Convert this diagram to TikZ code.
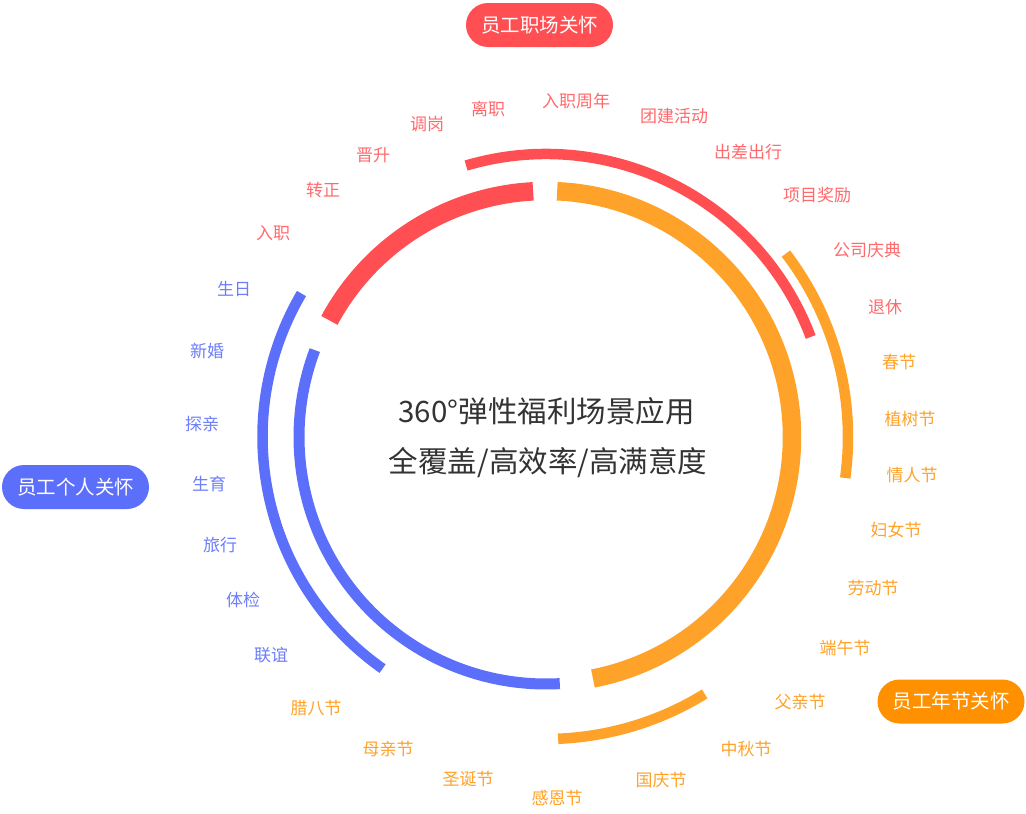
\documentclass[tikz,border=0pt]{standalone}
\usepackage{fontspec}
\setmainfont{Noto Sans CJK SC}
\definecolor{cred}{HTML}{FF4F52}
\definecolor{corg}{HTML}{FFA229}
\definecolor{cblu}{HTML}{5C6FFB}
\definecolor{cpill}{HTML}{FF9000}
\definecolor{ctxt}{HTML}{333333}
\tikzset{
  inring/.style={line width=18.5pt},
  bluering/.style={line width=11pt},
  outring/.style={line width=10.5pt},
  lab/.style={font=\fontsize{17}{19}\selectfont, inner sep=0pt},
  rlab/.style={lab, text=cred!85!white},
  blab/.style={lab, text=cblu!90!white},
  olab/.style={lab, text=corg},
  pill/.style={rounded corners=22pt, minimum width=147pt, minimum height=44pt, text=white, font=\fontsize{19.5}{21}\selectfont, inner sep=0pt},
  ctr/.style={font=\fontsize{29.5}{32}\selectfont, text=ctxt, inner sep=0pt}
}
\begin{document}
\begin{tikzpicture}[x=1pt,y=1pt]
\useasboundingbox (0,0) rectangle (1026,-814);
\coordinate (c) at (546,-437);
% inner ring
\draw[inring, cred] ([shift={(c)}]93:246) arc[start angle=93, end angle=151.7, radius=246];
\draw[inring, corg] ([shift={(c)}]87.4:246) arc[start angle=87.4, end angle=-79, radius=246];
\draw[bluering, cblu] ([shift={(c)}]159.4:247) arc[start angle=159.4, end angle=273.2, radius=247];
% outer ring
\draw[outring, cred] ([shift={(c)}]106.4:283) arc[start angle=106.4, end angle=20.7, radius=283];
\draw[outring, cblu] ([shift={(c)}]149.6:283.5) arc[start angle=149.6, end angle=234.8, radius=283.5];
\draw[outring, corg] ([shift={(c)}]37.4:302) arc[start angle=37.4, end angle=-7.8, radius=302];
\draw[outring, corg] ([shift={(c)}]-58.3:302) arc[start angle=-58.3, end angle=-87.7, radius=302];
% center text
\node[ctr] (t1) at (546.5,-411) {360°弹性福利场景应用};
\node[ctr] (t2) at (548,-463) {全覆盖/高效率/高满意度};
% pills
\node[pill, fill=cred] (p1) at (539.5,-25) {员工职场关怀};
\node[pill, fill=cblu] (p2) at (75.5,-487) {员工个人关怀};
\node[pill, fill=cpill] (p3) at (951,-701.5) {员工年节关怀};
% red labels
\node[rlab] (r1) at (273,-233) {入职};
\node[rlab] (r2) at (323,-190) {转正};
\node[rlab] (r3) at (373,-155) {晋升};
\node[rlab] (r4) at (427,-124) {调岗};
\node[rlab] (r5) at (488,-109) {离职};
\node[rlab] (r6) at (576,-101) {入职周年};
\node[rlab] (r7) at (674,-116) {团建活动};
\node[rlab] (r8) at (748,-152) {出差出行};
\node[rlab] (r9) at (817,-195) {项目奖励};
\node[rlab] (r10) at (867,-250) {公司庆典};
\node[rlab] (r11) at (885,-307) {退休};
% blue labels
\node[blab] (b1) at (234,-289) {生日};
\node[blab] (b2) at (207,-351) {新婚};
\node[blab] (b3) at (202,-424) {探亲};
\node[blab] (b4) at (209,-484) {生育};
\node[blab] (b5) at (220,-545) {旅行};
\node[blab] (b6) at (243,-600) {体检};
\node[blab] (b7) at (271,-655) {联谊};
% orange labels
\node[olab] (o1) at (899,-362) {春节};
\node[olab] (o2) at (910,-419) {植树节};
\node[olab] (o3) at (912,-475) {情人节};
\node[olab] (o4) at (896,-530) {妇女节};
\node[olab] (o5) at (873,-588) {劳动节};
\node[olab] (o6) at (845,-648) {端午节};
\node[olab] (o7) at (800,-702) {父亲节};
\node[olab] (o8) at (746,-749) {中秋节};
\node[olab] (o9) at (661,-780) {国庆节};
\node[olab] (o10) at (557,-798) {感恩节};
\node[olab] (o11) at (468,-779) {圣诞节};
\node[olab] (o12) at (388,-749) {母亲节};
\node[olab] (o13) at (316,-708) {腊八节};
\end{tikzpicture}
\end{document}
